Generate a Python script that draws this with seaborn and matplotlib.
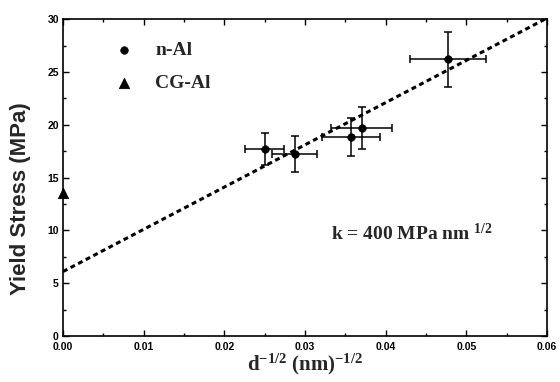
import matplotlib
matplotlib.use("Agg")
import matplotlib.pyplot as plt
import seaborn as sns
import numpy as np
import pandas as pd

# n-Al grain-size data: d^-1/2 (nm^-1/2) vs yield stress (MPa)
nal_x = [0.0250, 0.0287, 0.0357, 0.0370, 0.0477]
nal_y = [17.7, 17.2, 18.8, 19.7, 26.2]
nal_xerr = [0.0024, 0.0028, 0.0036, 0.0038, 0.0047]
nal_yerr = [1.5, 1.7, 1.8, 2.0, 2.6]

# coarse-grained reference
cg_x = [0.0]
cg_y = [13.5]

# Hall-Petch fit: sigma = sigma0 + k d^-1/2
fit_sigma0 = 6.1
fit_k = 400.0
fit_x = [0.0, 0.06]

x_ticks = [0.00, 0.01, 0.02, 0.03, 0.04, 0.05, 0.06]
x_ticklabels = ["0.00", "0.01", "0.02", "0.03", "0.04", "0.05", "0.06"]
y_ticks = [0, 5, 10, 15, 20, 25, 30]

sns.set_theme(style="ticks")
plt.rcParams["font.family"] = ["Liberation Serif", "DejaVu Serif"]
plt.rcParams["mathtext.fontset"] = "custom"
plt.rcParams["mathtext.rm"] = "Liberation Serif:bold"
plt.rcParams["mathtext.it"] = "Liberation Serif:bold"
plt.rcParams["mathtext.bf"] = "Liberation Serif:bold"

fig = plt.figure(figsize=(5.6, 3.82), dpi=100)
ax = fig.add_axes([0.1125, 0.1204, 0.8645, 0.8296])

fit_df = pd.DataFrame({"x": fit_x, "y": [fit_sigma0 + fit_k * v for v in fit_x]})
sns.lineplot(data=fit_df, x="x", y="y", ax=ax, color="black",
             linestyle=(0, (1.6, 1.2)), linewidth=2.2, zorder=2)

ax.errorbar(nal_x, nal_y, xerr=nal_xerr, yerr=nal_yerr, fmt="none",
            ecolor="black", elinewidth=1.1, capsize=3, capthick=1.1, zorder=3)

nal_df = pd.DataFrame({"x": nal_x, "y": nal_y})
cg_df = pd.DataFrame({"x": cg_x, "y": cg_y})
sns.scatterplot(data=nal_df, x="x", y="y", ax=ax, marker="o", s=30,
                color="black", edgecolor="black", zorder=4, label="n-Al",
                clip_on=False)
sns.scatterplot(data=cg_df, x="x", y="y", ax=ax, marker="^", s=55,
                color="black", edgecolor="black", zorder=5, label="CG-Al",
                clip_on=False)

ax.set_xlim(0, 0.06)
ax.set_ylim(0, 30)
ax.set_xticks(x_ticks)
ax.set_xticklabels(x_ticklabels)
ax.set_yticks(y_ticks)
ax.set_xticks(np.arange(0.005, 0.06, 0.01), minor=True)
ax.set_yticks(np.arange(2.5, 30, 5), minor=True)
ax.tick_params(which="both", direction="in", top=True, right=True,
               colors="black", labelsize=7.5, width=1)
ax.tick_params(which="major", length=4)
ax.tick_params(axis="x", which="major", pad=4)
ax.tick_params(axis="y", which="major", pad=3)
ax.tick_params(which="minor", length=2)
for lab in ax.get_xticklabels() + ax.get_yticklabels():
    lab.set_fontweight("bold")
    lab.set_family(["Liberation Sans", "DejaVu Sans"])
for sp in ax.spines.values():
    sp.set_visible(True)
    sp.set_color("black")
    sp.set_linewidth(1.2)

ax.set_xlabel(r"d$^{-1/2}$ (nm)$^{-1/2}$", fontsize=15, fontweight="bold",
              labelpad=0)
ax.set_ylabel("Yield Stress (MPa)", fontsize=16, fontweight="bold",
              family=["Liberation Sans", "DejaVu Sans"])
ax.yaxis.set_label_coords(-0.066, 0.435)

ax.text(0.0332, 9.1, r"k = 400 MPa nm $^{1/2}$", fontsize=14,
        fontweight="bold", va="baseline")

leg = ax.legend(loc="upper left", frameon=False,
                prop={"size": 14, "weight": "bold"},
                bbox_to_anchor=(0.05, 0.985), handletextpad=0.6,
                labelspacing=0.8, markerscale=1.0)

fig.savefig("out.png", dpi=100)
